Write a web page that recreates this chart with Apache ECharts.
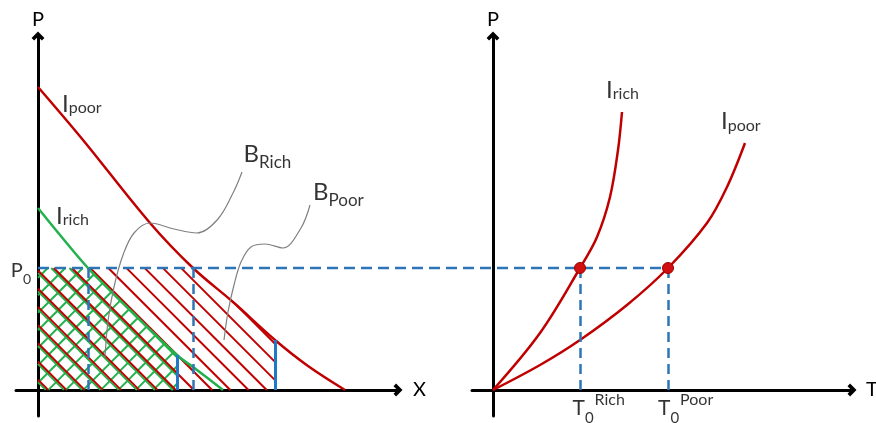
<!DOCTYPE html>
<html><head><meta charset="utf-8">
<script src="https://cdn.jsdelivr.net/npm/echarts@6/dist/echarts.min.js"></script>
<style>html,body{margin:0;padding:0;background:#fff}#c{width:876px;height:423px}</style>
</head><body><div id="c"></div>
<script>
// ---------- data (schematic units) ----------
const P0 = 12.2;
// left panel: demand-like curves
const iPoorLeftX = [0, 4.5, 11.2, 15.5, 19.5, 23.7, 27.0, 30.7];
const iPoorLeftY = [30.3, 25.0, 16.7, 12.2, 8.8, 5.0, 2.4, 0];
const iRichLeftX = [0, 2.2, 5.0, 9.2, 13.9, 15.9, 18.5];
const iRichLeftY = [18.2, 15.5, 12.2, 8.0, 3.5, 2.0, 0];
const budgetCutX = [13.9, 23.7];          // [rich, poor]
// pointer lines for the B labels
const bRichPtrX = [20.4, 19.6, 18.0, 15.9, 13.6, 11.2, 9.6, 8.5, 7.6, 7.0, 6.7];
const bRichPtrY = [21.8, 19.9, 17.1, 15.7, 16.1, 16.7, 15.7, 13.5, 10.3, 6.9, 3.3];
const bPoorPtrX = [27.2, 26.3, 24.5, 22.7, 21.3, 20.3, 19.6, 19.0, 18.6];
const bPoorPtrY = [18.5, 16.2, 14.2, 14.6, 14.3, 12.8, 10.5, 7.8, 5.0];
// right panel
const iRichRightX = [0, 4.7, 8.7, 10.4, 11.7, 12.5, 12.9];
const iRichRightY = [0, 5.7, 12.2, 15.3, 19.3, 24.0, 27.8];
const iPoorRightX = [0, 4.7, 8.7, 13.4, 17.5, 21.4, 23.4, 25.2];
const iPoorRightY = [0, 2.5, 5.0, 8.5, 12.2, 16.7, 20.3, 24.7];
const T0 = [8.7, 17.5];                  // [rich, poor]

// ---------- layout ----------
const PPU = 10;
const L = {left: 16, top: 36, width: 382, height: 380, xMin: -2.2, yMin: -2.6};
const R = {left: 472, top: 36, width: 380, height: 380, xMin: -2.1, yMin: -2.6};
const W = {left: L.left, top: L.top, width: R.left + R.width - L.left, height: L.height, xMin: L.xMin, yMin: L.yMin};
const F = 'Lato, "Open Sans", sans-serif';
const RED = '#c00000', GREEN = '#22b14c', BLUE = '#2e75b6', BLUE2 = '#1f78c8', GRAY = '#808080';

const zip = (xs, ys) => xs.map((x, i) => [x, ys[i]]);
function interp(xs, ys, x) {
  if (x <= xs[0]) return ys[0];
  for (let i = 1; i < xs.length; i++) {
    if (x <= xs[i]) { const t = (x - xs[i-1]) / (xs[i] - xs[i-1]); return ys[i-1] + t * (ys[i] - ys[i-1]); }
  }
  return ys[ys.length - 1];
}
function xAtY(xs, ys, y) {
  for (let i = 1; i < xs.length; i++) {
    if ((ys[i-1] - y) * (ys[i] - y) <= 0) { const t = (y - ys[i-1]) / (ys[i] - ys[i-1]); return xs[i-1] + t * (xs[i] - xs[i-1]); }
  }
  return xs[xs.length - 1];
}
function hatch(xs, ys, xCut, slope, offsets) {
  const top = x => Math.min(P0, interp(xs, ys, x));
  const segs = [];
  offsets.forEach(c => {
    let run = null;
    const n = Math.round(xCut / 0.01);
    for (let i = 0; i <= n; i++) {
      const x = i * 0.01, y = c + slope * x;
      const inside = y >= 0 && y <= top(x);
      if (inside) { if (!run) run = [[x, y], [x, y]]; else run[1] = [x, y]; }
      else if (run) { segs.push(run); run = null; }
    }
    if (run) segs.push(run);
  });
  return segs.filter(s => Math.hypot(s[1][0] - s[0][0], s[1][1] - s[0][1]) > 0.05)
             .map(s => ({coords: s}));
}
function phases(start, step, lo, hi) {
  const out = [];
  let c = start; while (c - step > lo) c -= step;
  for (; c < hi; c += step) out.push(c);
  return out;
}
const redOff = phases(22.87, 1.82, -0.5, 31);
const greenBackOff = redOff.map(c => c - 0.25);
const greenFwdOff = phases(1.03, 1.75, -15, 14).map(x0 => -x0);

const redHatch = hatch(iPoorLeftX, iPoorLeftY, budgetCutX[1], -1, redOff);
const greenHatch = hatch(iRichLeftX, iRichLeftY, budgetCutX[0], -1, greenBackOff)
  .concat(hatch(iRichLeftX, iRichLeftY, budgetCutX[0], 1, greenFwdOff));

const xRichP0 = xAtY(iRichLeftX, iRichLeftY, P0);
const xPoorP0 = xAtY(iPoorLeftX, iPoorLeftY, P0);

// right-panel origin expressed in the wide (left-origin) overlay grid
const rightOriginInWide = ((R.left - R.xMin * PPU) - (L.left - L.xMin * PPU)) / PPU;

// ---------- axes ----------
const chevron = 'path://M10,0 L20,10 L16,14 L10,8 L4,14 L0,10 Z';
function axisLine() {
  return {onZero: true, symbol: ['none', chevron], symbolSize: [13, 9], lineStyle: {color: '#000', width: 3}};
}
function mkX(g, gi, name, gap) {
  return {type: 'value', gridIndex: gi, min: g.xMin, max: g.xMin + g.width / PPU,
    axisLine: axisLine(), axisTick: {show: false}, axisLabel: {show: false}, splitLine: {show: false},
    name: name, nameLocation: 'end', nameGap: gap,
    nameTextStyle: {fontFamily: F, fontSize: 20, color: '#000', padding: [5, 0, 0, 0]}};
}
function mkY(g, gi) {
  return {type: 'value', gridIndex: gi, min: g.yMin, max: g.yMin + g.height / PPU,
    axisLine: axisLine(), axisTick: {show: false}, axisLabel: {show: false}, splitLine: {show: false},
    name: 'P', nameLocation: 'end', nameGap: 6,
    nameTextStyle: {fontFamily: F, fontSize: 20, color: '#000'}};
}

// ---------- label styles ----------
const txt = (o) => Object.assign({fontFamily: F, color: '#000'}, o);
const richI = {m: txt({fontSize: 24, lineHeight: 24}), s: txt({fontSize: 16, lineHeight: 16, verticalAlign: 'bottom'})};
const richB = {m: txt({fontSize: 24, lineHeight: 34}), s: txt({fontSize: 17, lineHeight: 17, verticalAlign: 'bottom'})};
const richT = {m: txt({fontSize: 21, lineHeight: 34}), z: txt({fontSize: 15, lineHeight: 15, verticalAlign: 'bottom'}), r: txt({fontSize: 16, lineHeight: 16, verticalAlign: 'top', padding: [0, 0, 0, 1]})};
const richP = {m: txt({fontSize: 20, lineHeight: 30}), z: txt({fontSize: 14, lineHeight: 14, verticalAlign: 'bottom'})};

function ann(pt, text, rich, pos, align) {
  return {value: pt, label: {show: true, color: '#000', formatter: text, rich: rich, position: pos, align: align || 'left', verticalAlign: 'middle'}};
}

const leftAnn = [
  ann([iPoorLeftX[0], iPoorLeftY[0]], '{m|I}{s|poor}', richI, [24, 17]),
  ann([iRichLeftX[0], iRichLeftY[0]], '{m|I}{s|rich}', richI, [18, 8]),
  ann([bRichPtrX[0], bRichPtrY[0]], '{m|B}{s|Rich}', richB, [1.5, -18]),
  ann([bPoorPtrX[0], bPoorPtrY[0]], '{m|B}{s|Poor}', richB, [3, -12.5]),
  ann([0, P0], '{m|P}{z|0}', richP, [-7, 3], 'right')
];
const rightAnn = [
  ann([iRichRightX[iRichRightX.length-1], iRichRightY[iRichRightY.length-1]], '{m|I}{s|rich}', richI, [-16, -22]),
  ann([iPoorRightX[iPoorRightX.length-1], iPoorRightY[iPoorRightY.length-1]], '{m|I}{s|poor}', richI, [-24, -21.5]),
  ann([T0[0], 0], '{m|T}{z|0}{r|Rich}', richT, [-7.5, 18.5]),
  ann([T0[1], 0], '{m|T}{z|0}{r|Poor}', richT, [-10, 18.5])
];

const curve = (gi, data, color, width, z) => ({type: 'line', xAxisIndex: gi, yAxisIndex: gi, data: data, smooth: 0.35,
  showSymbol: false, symbol: 'none', lineStyle: {color: color, width: width}, z: z, silent: true, animation: false});
const segs = (gi, data, color, width, type, z) => ({type: 'lines', coordinateSystem: 'cartesian2d', xAxisIndex: gi, yAxisIndex: gi,
  data: data, lineStyle: {color: color, width: width, type: type, opacity: 1, curveness: 0}, z: z, silent: true, animation: false});

const hiddenAxis = (g, gi, isX) => ({type: 'value', gridIndex: gi, show: false,
  min: isX ? g.xMin : g.yMin, max: isX ? g.xMin + g.width / PPU : g.yMin + g.height / PPU});

const option = {
  backgroundColor: '#fff',
  animation: false,
  grid: [
    {left: L.left, top: L.top, width: L.width, height: L.height, outerBoundsMode: 'none'},
    {left: R.left, top: R.top, width: R.width, height: R.height, outerBoundsMode: 'none'},
    {left: W.left, top: W.top, width: W.width, height: W.height, outerBoundsMode: 'none'}
  ],
  xAxis: [mkX(L, 0, 'X', 15), mkX(R, 1, 'T', 14), hiddenAxis(W, 2, true)],
  yAxis: [mkY(L, 0), mkY(R, 1), hiddenAxis(W, 2, false)],
  series: [
    segs(0, greenHatch, GREEN, 2, 'solid', 1),
    segs(0, redHatch, RED, 2, 'solid', 2),
    curve(0, zip(iPoorLeftX, iPoorLeftY), RED, 2.5, 4),
    curve(0, zip(iRichLeftX, iRichLeftY), GREEN, 2.5, 4),
    segs(0, [{coords: [[xRichP0, P0], [xRichP0, 0]]}, {coords: [[xPoorP0, P0], [xPoorP0, 0]]}], BLUE, 2.5, [10, 6], 5),
    segs(0, [{coords: [[budgetCutX[0], interp(iRichLeftX, iRichLeftY, budgetCutX[0])], [budgetCutX[0], 0]]},
             {coords: [[budgetCutX[1], interp(iPoorLeftX, iPoorLeftY, budgetCutX[1])], [budgetCutX[1], 0]]}], BLUE2, 3, 'solid', 5),
    curve(0, zip(bRichPtrX, bRichPtrY), GRAY, 1.2, 6),
    curve(0, zip(bPoorPtrX, bPoorPtrY), GRAY, 1.2, 6),
    {type: 'scatter', xAxisIndex: 0, yAxisIndex: 0, symbolSize: 0, data: leftAnn, z: 8, silent: true},

    curve(1, zip(iRichRightX, iRichRightY), RED, 2.5, 4),
    curve(1, zip(iPoorRightX, iPoorRightY), RED, 2.5, 4),
    segs(1, [{coords: [[T0[0], P0], [T0[0], 0]]}, {coords: [[T0[1], P0], [T0[1], 0]]}], BLUE, 2.5, [10, 6], 5),
    {type: 'scatter', xAxisIndex: 1, yAxisIndex: 1, symbolSize: 11, data: [[T0[0], P0], [T0[1], P0]],
      itemStyle: {color: '#d01010', borderColor: '#a00000', borderWidth: 1, opacity: 1}, z: 7, silent: true},
    {type: 'scatter', xAxisIndex: 1, yAxisIndex: 1, symbolSize: 0, data: rightAnn, z: 8, silent: true},

    // long P0 dashed line across both panels
    {type: 'line', xAxisIndex: 2, yAxisIndex: 2, data: [[0, P0], [rightOriginInWide + T0[1], P0]],
      showSymbol: false, symbol: 'none', lineStyle: {color: BLUE, width: 2.5, type: [11, 6]}, z: 5, silent: true}
  ]
};
const chart = echarts.init(document.getElementById('c'), null, {renderer: 'canvas'});
chart.setOption(option);
</script></body></html>
